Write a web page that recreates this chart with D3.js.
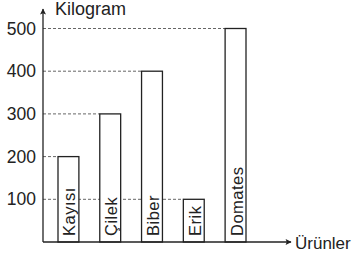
<!DOCTYPE html>
<html>
<head>
<meta charset="utf-8">
<script src="https://cdn.jsdelivr.net/npm/d3@7"></script>
<style>
  body { margin: 0; background: #fff; }
  svg text { font-family: "Liberation Sans", Arial, sans-serif; fill: #222; }
</style>
</head>
<body>
<div id="chart"></div>
<script>
// Ürün miktarları (kg)
const urunler = ["Kayısı", "Çilek", "Biber", "Erik", "Domates"];
const kilogram = [200, 300, 400, 100, 500];
const yTicks = [100, 200, 300, 400, 500];

const width = 356, height = 256;
const axisX = 43, baseY = 242;

const svg = d3.select("#chart").append("svg")
    .attr("width", width).attr("height", height);

// arrow heads
const defs = svg.append("defs");
defs.append("marker")
    .attr("id", "arrow")
    .attr("viewBox", "0 0 10 10")
    .attr("refX", 9).attr("refY", 5)
    .attr("markerWidth", 9).attr("markerHeight", 6)
    .attr("markerUnits", "userSpaceOnUse")
    .attr("orient", "auto")
    .append("path")
    .attr("d", "M0,0 L10,5 L0,10 L2,5 Z")
    .attr("fill", "#222");

let y = d3.scaleLinear().domain([0, 500]).range([baseY, 28.5]);
let x = d3.scaleBand().domain(urunler).range([58, 246]).paddingInner(0.5).paddingOuter(0);

// dashed guide lines, from axis to the bar
svg.append("g")
    .selectAll("line")
    .data(urunler)
    .enter().append("line")
    .attr("x1", axisX)
    .attr("x2", d => x(d))
    .attr("y1", (d, i) => y(kilogram[i]))
    .attr("y2", (d, i) => y(kilogram[i]))
    .attr("stroke", "#666")
    .attr("stroke-width", 1)
    .attr("stroke-dasharray", "3,2");

// bars
svg.append("g")
    .selectAll("rect")
    .data(urunler)
    .enter().append("rect")
    .attr("x", d => x(d))
    .attr("y", (d, i) => y(kilogram[i]))
    .attr("width", x.bandwidth())
    .attr("height", (d, i) => baseY - y(kilogram[i]))
    .attr("fill", "#fff")
    .attr("stroke", "#222")
    .attr("stroke-width", 1.3);

// bar labels (vertical)
svg.append("g")
    .selectAll("text")
    .data(urunler)
    .enter().append("text")
    .attr("transform", d => "translate(" + (x(d) + x.bandwidth() / 2 + 1) + "," + (baseY - 6) + ") rotate(-90)")
    .attr("dominant-baseline", "central")
    .style("font-size", "16.5px")
    .style("letter-spacing", "0.5px")
    .text(d => d);

// y tick labels
const yAxis = d3.axisLeft(y).tickValues(yTicks).tickSize(0).tickPadding(7);
const gy = svg.append("g")
    .attr("transform", "translate(" + axisX + ",0)")
    .call(yAxis);
gy.select(".domain").remove();
gy.selectAll("text")
    .style("font-size", "17.5px")
    .style("font-family", "'Liberation Sans', Arial, sans-serif")
    .attr("fill", "#222");

// axes with arrows
svg.append("line")
    .attr("x1", axisX).attr("y1", baseY)
    .attr("x2", axisX).attr("y2", 9)
    .attr("stroke", "#222").attr("stroke-width", 1.3)
    .attr("marker-end", "url(#arrow)");

svg.append("line")
    .attr("x1", axisX).attr("y1", baseY)
    .attr("x2", 291).attr("y2", baseY)
    .attr("stroke", "#222").attr("stroke-width", 1.3)
    .attr("marker-end", "url(#arrow)");

svg.append("text")
    .attr("x", 55).attr("y", 14.5)
    .style("font-size", "18px")
    .text("Kilogram");

svg.append("text")
    .attr("x", 295).attr("y", 248.5)
    .style("font-size", "17px")
    .text("Ürünler");
</script>
</body>
</html>
